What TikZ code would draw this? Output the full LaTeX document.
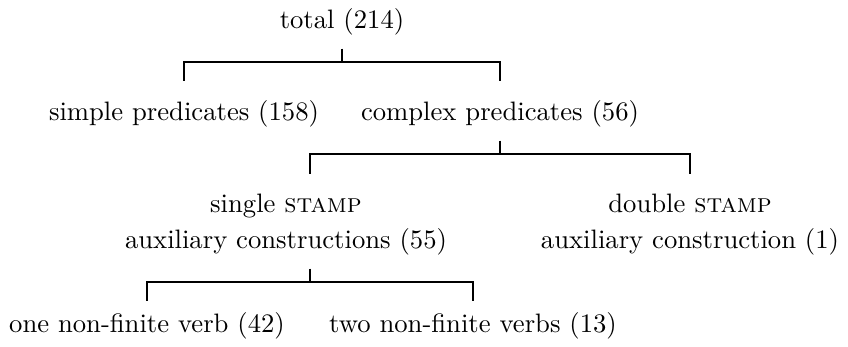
\documentclass[tikz,border=0pt]{standalone}
\usepackage{amsmath}
\usepackage{tikz}

\tikzset{
  lbl/.style={inner sep=0pt, anchor=base, font=\fontsize{10}{13.5}\selectfont},
  stem/.style={shorten <=5pt},
  branch/.style={shorten >=#1},
  branch/.default=7pt
}

\begin{document}
\begin{tikzpicture}[x=0.375pt,y=-0.375pt]
        \useasboundingbox (0,0) rectangle (848,346);

        \node[lbl] (total) at (342,28) {total (214)};

        \node[lbl] (simple) at (184,120) {simple predicates (158)};
        \node[lbl] (complex) at (500,120) {complex predicates (56)};

        % base of a two-line node is its last line
        \node[lbl, align=center] (single) at (286,248) {single \textsc{stamp}\\auxiliary constructions (55)};
        \node[lbl, align=center] (double) at (690,248) {double \textsc{stamp}\\auxiliary construction (1)};

        \node[lbl] (one) at (147,332) {one non-finite verb (42)};
        \node[lbl] (two) at (473,332) {two non-finite verbs (13)};

        \coordinate (b1) at (342,62);
        \coordinate (b2) at (500,154);
        \coordinate (b3) at (310,282);

        \draw[stem] (total.south) -- (b1);
        \draw[branch] (b1) -| (simple.north);
        \draw[branch] (b1) -| (complex.north);

        \draw[stem] (complex.south) -- (b2);
        \draw[branch] (b2) -| ([xshift=9pt]single.north);
        \draw[branch] (b2) -| (double.north);

        \draw[stem] ([xshift=9pt]single.south) -- (b3);
        \draw[branch=3.75pt] (b3) -| (one.north);
        \draw[branch=3.75pt] (b3) -| (two.north);

    \end{tikzpicture}
\end{document}
